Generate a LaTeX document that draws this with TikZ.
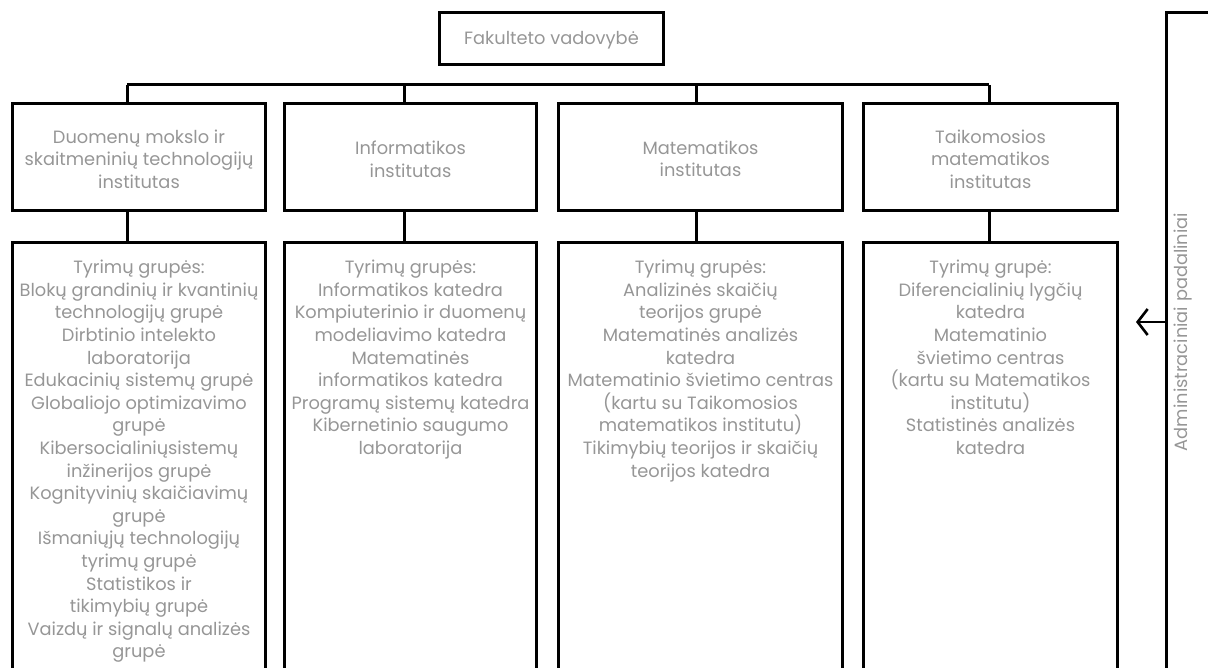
\documentclass[tikz,border=0pt]{standalone}
\usepackage{fontspec}
\setmainfont{Poppins}
\usetikzlibrary{arrows.meta}
\definecolor{txt}{RGB}{150,150,150}
\tikzset{
  box/.style={draw=black, line width=3pt, rectangle, inner sep=0pt},
  lbl/.style={text=txt, align=center, font=\fontsize{17.8}{22.6}\selectfont, inner sep=0pt},
  conn/.style={draw=black, line width=3pt},
}
\begin{document}
\begin{tikzpicture}[x=1pt,y=-1pt]
\useasboundingbox (0,0) rectangle (1208,668);
% top box
\node[box, minimum width=224pt, minimum height=52pt] (top) at (551.5,38.5) {};
\node[lbl] (toptxt) at (551.5,40) {Fakulteto vadovybė};
% institute boxes
\node[box, minimum width=253pt, minimum height=107pt] (b1) at (139,157) {};
\node[box, minimum width=252pt, minimum height=107pt] (b2) at (410.5,157) {};
\node[box, minimum width=284pt, minimum height=107pt] (b3) at (700.5,157) {};
\node[box, minimum width=254pt, minimum height=107pt] (b4) at (990.5,157) {};
\node[lbl] (t1) at (139,159) {Duomenų mokslo ir\\skaitmeninių technologijų\\institutas};
\node[lbl] (t2) at (410.5,159) {Informatikos\\institutas};
\node[lbl] (t3) at (700.5,159) {Matematikos\\institutas};
\node[lbl] (t4) at (990.5,159) {Taikomosios\\matematikos\\institutas};
% lower boxes (open at the bottom of the page)
\node[box, minimum width=253pt, minimum height=447pt] (l1) at (139,466.5) {};
\node[box, minimum width=252pt, minimum height=447pt] (l2) at (410.5,466.5) {};
\node[box, minimum width=284pt, minimum height=447pt] (l3) at (700.5,466.5) {};
\node[box, minimum width=254pt, minimum height=447pt] (l4) at (990.5,466.5) {};
\node[lbl, anchor=north] (u1) at (139,260) {Tyrimų grupės:\\Blokų grandinių ir kvantinių\\technologijų grupė\\Dirbtinio intelekto\\laboratorija\\Edukacinių sistemų grupė\\Globaliojo optimizavimo\\grupė\\Kibersocialiniųsistemų\\inžinerijos grupė\\Kognityvinių skaičiavimų\\grupė\\Išmaniųjų technologijų\\tyrimų grupė\\Statistikos ir\\tikimybių grupė\\Vaizdų ir signalų analizės\\grupė};
\node[lbl, anchor=north] (u2) at (410.5,260) {Tyrimų grupės:\\Informatikos katedra\\Kompiuterinio ir duomenų\\modeliavimo katedra\\Matematinės\\informatikos katedra\\Programų sistemų katedra\\Kibernetinio saugumo\\laboratorija};
\node[lbl, anchor=north] (u3) at (700.5,260) {Tyrimų grupės:\\Analizinės skaičių\\teorijos grupė\\Matematinės analizės\\katedra\\Matematinio švietimo centras\\(kartu su Taikomosios\\matematikos institutu)\\Tikimybių teorijos ir skaičių\\teorijos katedra};
\node[lbl, anchor=north] (u4) at (990.5,260) {Tyrimų grupė:\\Diferencialinių lygčių\\katedra\\Matematinio\\švietimo centras\\(kartu su Matematikos\\institutu)\\Statistinės analizės\\katedra};
% bus
\coordinate (c1) at (127,85);
\coordinate (c2) at (404,85);
\coordinate (c3) at (696,85);
\coordinate (c4) at (989,85);
\draw[conn] (c1) -- (c4);
\foreach \i in {1,2,3,4} {
  \draw[conn] (c\i) -- (c\i |- b\i.north);
  \draw[conn] (c\i |- b\i.south) -- (c\i |- l\i.north);
}
% administrative units
\coordinate (rtop) at (1166,13);
\coordinate (redge) at (1212,13);
\coordinate (rbot) at (1166,690);
\draw[conn] (redge) -- (rtop) -- (rbot);
\node[lbl, rotate=90] (adm) at (1183,332) {Administraciniai padaliniai};
\coordinate (arrs) at (1166,322);
\coordinate (arre) at (1136,322);
\draw[conn, line width=2.6pt, -{Straight Barb[length=10pt,width=26pt,line width=2.6pt]}] (arrs) -- (arre);
\end{tikzpicture}
\end{document}
